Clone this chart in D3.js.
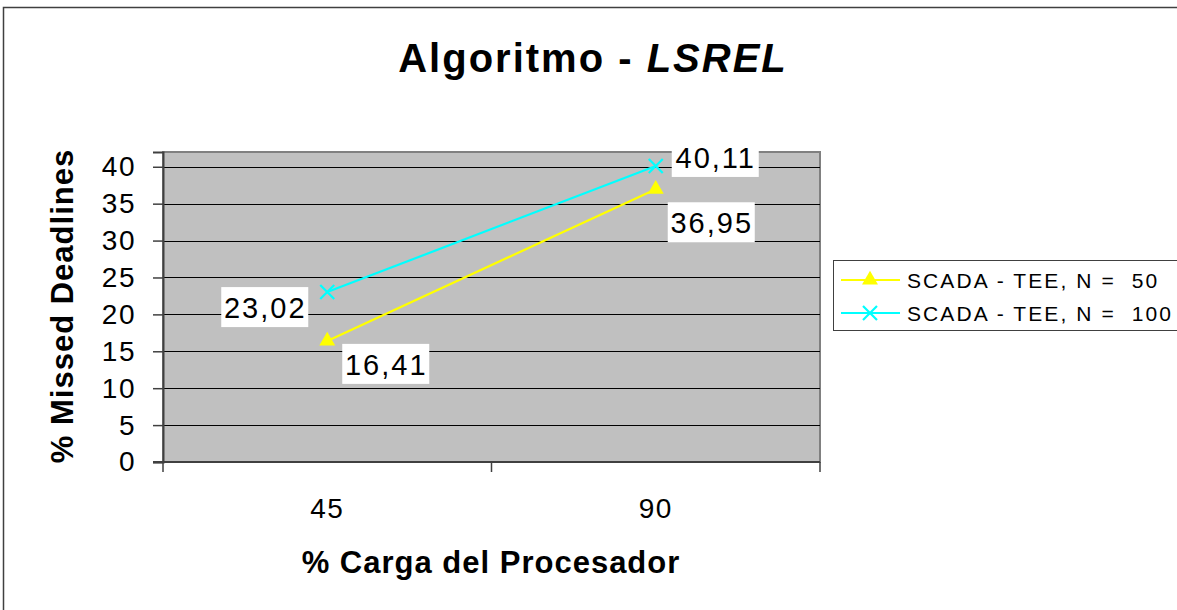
<!DOCTYPE html>
<html>
<head>
<meta charset="utf-8">
<script src="https://cdn.jsdelivr.net/npm/d3@7"></script>
<style>
  html, body { margin: 0; padding: 0; background: #fff; }
  svg { display: block; font-family: Arial, "Liberation Sans", sans-serif; }
</style>
</head>
<body>
<svg id="chart" width="1177" height="610"></svg>
<script>
// ---- data ----
const categories = ["45", "90"];
const seriesNames = ["SCADA - TEE, N =  50", "SCADA - TEE, N =  100"];
const valuesN50 = [16.41, 36.95];
const valuesN100 = [23.02, 40.11];
const labelsN50 = ["16,41", "36,95"];
const labelsN100 = ["23,02", "40,11"];
const yTicks = [0, 5, 10, 15, 20, 25, 30, 35, 40];

// ---- layout ----
const svg = d3.select("#chart");
const plot = { left: 163, right: 820, top: 152, bottom: 462 };

const x = d3.scaleBand().domain(categories).range([plot.left, plot.right]);
const y = d3.scaleLinear().domain([0, 42]).range([plot.bottom, plot.top]);

// outer frame
svg.append("rect").attr("x", 3.5).attr("y", 7.5).attr("width", 1200).attr("height", 700)
  .attr("fill", "#fff").attr("stroke", "#404040").attr("stroke-width", 1.5);

// plot background
svg.append("rect").attr("x", plot.left).attr("y", plot.top)
  .attr("width", plot.right - plot.left).attr("height", plot.bottom - plot.top)
  .attr("fill", "#C0C0C0").attr("stroke", "#808080").attr("stroke-width", 2);

// gridlines
svg.append("g").selectAll("line").data(yTicks.filter(d => d > 0)).join("line")
  .attr("x1", plot.left).attr("x2", plot.right)
  .attr("y1", d => Math.round(y(d)) + 0.5).attr("y2", d => Math.round(y(d)) + 0.5)
  .attr("stroke", "#000").attr("stroke-width", 1);

// y axis
const yAxis = svg.append("g").attr("transform", `translate(${plot.left},0)`)
  .call(d3.axisLeft(y).tickValues(yTicks).tickSize(10).tickPadding(17));
yAxis.select(".domain").attr("stroke", "#404040").attr("stroke-width", 2);
yAxis.selectAll(".tick line").attr("stroke", "#404040").attr("stroke-width", 1.5);
yAxis.selectAll(".tick text").attr("font-size", 28).attr("fill", "#000")
  .attr("font-family", "Arial, 'Liberation Sans', sans-serif").attr("letter-spacing", 1.5);

// x axis
const xAxisG = svg.append("g").attr("transform", `translate(0,${plot.bottom})`);
xAxisG.append("line").attr("x1", plot.left - 10).attr("x2", plot.right)
  .attr("y1", 0).attr("y2", 0).attr("stroke", "#404040").attr("stroke-width", 2);
const boundaries = [plot.left, ...categories.map(c => x(c) + x.bandwidth())];
xAxisG.selectAll("line.tk").data(boundaries).join("line").attr("class", "tk")
  .attr("x1", d => d).attr("x2", d => d).attr("y1", 0).attr("y2", 10)
  .attr("stroke", "#404040").attr("stroke-width", 1.5);
xAxisG.selectAll("text").data(categories).join("text")
  .attr("x", d => x(d) + x.bandwidth() / 2).attr("y", 56)
  .attr("text-anchor", "middle").attr("font-size", 28).attr("letter-spacing", 1.5)
  .text(d => d);

// titles
const title = svg.append("text").attr("x", 593).attr("y", 72)
  .attr("text-anchor", "middle").attr("font-size", 40).attr("font-weight", "bold")
  .attr("letter-spacing", 2);
title.append("tspan").text("Algoritmo - ");
title.append("tspan").attr("font-style", "italic").text("LSREL");

svg.append("text").attr("x", 491).attr("y", 573).attr("text-anchor", "middle")
  .attr("font-size", 31).attr("font-weight", "bold").attr("letter-spacing", 1)
  .text("% Carga del Procesador");

svg.append("text").attr("transform", "translate(73,306) rotate(-90)")
  .attr("text-anchor", "middle").attr("font-size", 31).attr("font-weight", "bold")
  .attr("letter-spacing", 1).text("% Missed Deadlines");

// series
const series = [
  { name: seriesNames[0], values: valuesN50, labels: labelsN50, color: "#FFFF00", marker: "tri",
    offsets: [[58, 23], [55, 33]] },
  { name: seriesNames[1], values: valuesN100, labels: labelsN100, color: "#00FFFF", marker: "x",
    offsets: [[-63, 15], [59, -9]] }
];

const line = d3.line().x((d, i) => x(categories[i]) + x.bandwidth() / 2).y(d => y(d));

function drawMarker(g, type, color, cx, cy) {
  if (type === "tri") {
    g.append("path").attr("d", d3.symbol(d3.symbolTriangle, 110)())
      .attr("transform", `translate(${cx},${cy})`).attr("fill", color);
  } else {
    const s = 7;
    g.append("path").attr("d", `M${cx - s},${cy - s}L${cx + s},${cy + s}M${cx - s},${cy + s}L${cx + s},${cy - s}`)
      .attr("stroke", color).attr("stroke-width", 2.2).attr("fill", "none");
  }
}

series.forEach(s => {
  svg.append("path").datum(s.values).attr("d", line)
    .attr("fill", "none").attr("stroke", s.color).attr("stroke-width", 2.2);
  const g = svg.append("g");
  s.values.forEach((v, i) => {
    drawMarker(g, s.marker, s.color, x(categories[i]) + x.bandwidth() / 2, y(v));
  });
});

// data labels
series.forEach(s => {
  s.values.forEach((v, i) => {
    const cx = x(categories[i]) + x.bandwidth() / 2 + s.offsets[i][0];
    const cy = y(v) + s.offsets[i][1];
    const g = svg.append("g");
    g.append("rect").attr("x", cx - 43).attr("y", cy - 20).attr("width", 87).attr("height", 40)
      .attr("fill", "#fff");
    g.append("text").attr("x", cx + 1).attr("y", cy + 11).attr("text-anchor", "middle")
      .attr("font-size", 29).attr("letter-spacing", 2).text(s.labels[i]);
  });
});

// legend
const lg = svg.append("g");
lg.append("rect").attr("x", 833.5).attr("y", 260.5).attr("width", 400).attr("height", 70)
  .attr("fill", "#fff").attr("stroke", "#404040").attr("stroke-width", 1);
series.forEach((s, i) => {
  const cy = 280 + i * 33;
  lg.append("line").attr("x1", 841).attr("x2", 900).attr("y1", cy).attr("y2", cy)
    .attr("stroke", s.color).attr("stroke-width", 2.2);
  drawMarker(lg, s.marker, s.color, 870, cy);
  lg.append("text").attr("x", 907).attr("y", cy + 8).attr("font-size", 21)
    .attr("letter-spacing", 2.1).attr("xml:space", "preserve").style("white-space", "pre")
    .text(s.name);
});
</script>
</body>
</html>
